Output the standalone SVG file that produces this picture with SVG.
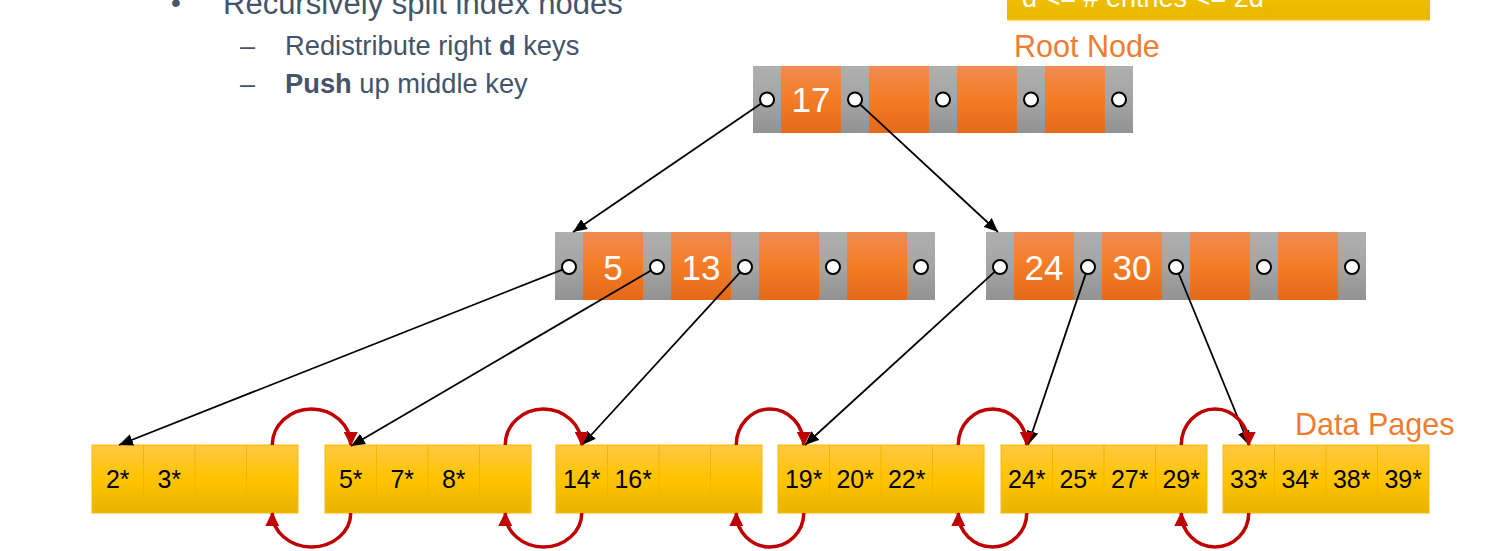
<svg xmlns="http://www.w3.org/2000/svg" width="1485" height="551" viewBox="0 0 1485 551">
<defs>
<linearGradient id="gOr" x1="0" y1="0" x2="0" y2="1">
<stop offset="0" stop-color="#F08B53"/><stop offset="0.5" stop-color="#F47C25"/><stop offset="1" stop-color="#E4691A"/>
</linearGradient>
<linearGradient id="gGr" x1="0" y1="0" x2="0" y2="1">
<stop offset="0" stop-color="#AFAFAF"/><stop offset="0.5" stop-color="#A5A5A5"/><stop offset="1" stop-color="#929292"/>
</linearGradient>
<linearGradient id="gYe" x1="0" y1="0" x2="0" y2="1">
<stop offset="0" stop-color="#FFC944"/><stop offset="0.5" stop-color="#FFC400"/><stop offset="1" stop-color="#E8B300"/>
</linearGradient>
<linearGradient id="gBox" x1="0" y1="0" x2="0" y2="1">
<stop offset="0" stop-color="#F7C800"/><stop offset="1" stop-color="#E8B700"/>
</linearGradient>
<marker id="ab" markerUnits="userSpaceOnUse" markerWidth="14" markerHeight="12" viewBox="0 0 14 12" refX="14" refY="6" orient="auto">
<path d="M0,0 L14,6 L0,12 Z" fill="#000"/>
</marker>
<marker id="ar" markerUnits="userSpaceOnUse" markerWidth="14" markerHeight="14" viewBox="0 0 14 14" refX="13" refY="7" orient="auto">
<path d="M0,0 L14,7 L0,14 Z" fill="#C00000"/>
</marker>
<style>
.t{font-family:"Liberation Sans",Arial,sans-serif;}
.tx{fill:#44546A;}
.gr{fill:url(#gGr);}
.or{fill:url(#gOr);}
.pt{fill:#fff;stroke:#000;stroke-width:2;}
.key{font-family:"Liberation Sans",Arial,sans-serif;font-size:35px;fill:#fff;text-anchor:middle;}
.leaf{fill:url(#gYe);stroke:#F7BC00;stroke-width:1;}
.div{stroke:#F2B500;stroke-width:1;}
.lk{font-family:"Liberation Sans",Arial,sans-serif;font-size:25px;fill:#000;text-anchor:middle;}
.bl{stroke:#000;stroke-width:1.8;fill:none;marker-end:url(#ab);}
.rd{stroke:#C00000;stroke-width:3.5;fill:none;marker-end:url(#ar);}
.lab{font-family:"Liberation Sans",Arial,sans-serif;font-size:30.5px;fill:#ED7D31;}
</style>
</defs>
<rect width="1485" height="551" fill="#fff"/>

<g id="bullets" class="t tx">
<text x="171" y="12" font-size="28">•</text>
<text x="223" y="14" font-size="31">Recursively split index nodes</text>
<text x="240" y="55" font-size="27">–</text>
<text x="285" y="55" font-size="27.3">Redistribute right <tspan font-weight="bold">d</tspan> keys</text>
<text x="240" y="93" font-size="27">–</text>
<text x="285" y="93" font-size="27.3"><tspan font-weight="bold">Push</tspan> up middle key</text>
</g>

<g id="constraint-box">
<rect x="1007" y="-30" width="423" height="50.5" fill="url(#gBox)"/>
<line x1="1007" y1="20" x2="1430" y2="20" stroke="#FFD24A" stroke-width="1"/>
<text class="t" x="1022" y="7" font-size="27" fill="#fff">d &lt;= # entries &lt;= 2d</text>
</g>

<g id="label-root"><text class="lab" x="1014" y="57">Root Node</text></g>
<g id="label-data"><text class="lab" x="1295" y="435">Data Pages</text></g>

<g id="root-node">
<rect class="gr" x="753" y="66" width="28" height="67"/>
<rect class="or" x="781" y="66" width="60" height="67"/>
<rect class="gr" x="841" y="66" width="28" height="67"/>
<rect class="or" x="869" y="66" width="60" height="67"/>
<rect class="gr" x="929" y="66" width="28" height="67"/>
<rect class="or" x="957" y="66" width="60" height="67"/>
<rect class="gr" x="1017" y="66" width="28" height="67"/>
<rect class="or" x="1045" y="66" width="60" height="67"/>
<rect class="gr" x="1105" y="66" width="28" height="67"/>
<text class="key" x="811" y="112">17</text>
<circle class="pt" cx="767" cy="99.5" r="7"/>
<circle class="pt" cx="855" cy="99.5" r="7"/>
<circle class="pt" cx="943" cy="99.5" r="7"/>
<circle class="pt" cx="1031" cy="99.5" r="7"/>
<circle class="pt" cx="1119" cy="99.5" r="7"/>
</g>

<g id="index-left">
<rect class="gr" x="555" y="232" width="28" height="68"/>
<rect class="or" x="583" y="232" width="60" height="68"/>
<rect class="gr" x="643" y="232" width="28" height="68"/>
<rect class="or" x="671" y="232" width="60" height="68"/>
<rect class="gr" x="731" y="232" width="28" height="68"/>
<rect class="or" x="759" y="232" width="60" height="68"/>
<rect class="gr" x="819" y="232" width="28" height="68"/>
<rect class="or" x="847" y="232" width="60" height="68"/>
<rect class="gr" x="907" y="232" width="28" height="68"/>
<text class="key" x="613" y="280">5</text>
<text class="key" x="701" y="280">13</text>
<circle class="pt" cx="569" cy="267" r="7"/>
<circle class="pt" cx="657" cy="267" r="7"/>
<circle class="pt" cx="745" cy="267" r="7"/>
<circle class="pt" cx="833" cy="267" r="7"/>
<circle class="pt" cx="921" cy="267" r="7"/>
</g>

<g id="index-right">
<rect class="gr" x="986" y="232" width="28" height="68"/>
<rect class="or" x="1014" y="232" width="60" height="68"/>
<rect class="gr" x="1074" y="232" width="28" height="68"/>
<rect class="or" x="1102" y="232" width="60" height="68"/>
<rect class="gr" x="1162" y="232" width="28" height="68"/>
<rect class="or" x="1190" y="232" width="60" height="68"/>
<rect class="gr" x="1250" y="232" width="28" height="68"/>
<rect class="or" x="1278" y="232" width="60" height="68"/>
<rect class="gr" x="1338" y="232" width="28" height="68"/>
<text class="key" x="1044" y="280">24</text>
<text class="key" x="1132" y="280">30</text>
<circle class="pt" cx="1000" cy="267" r="7"/>
<circle class="pt" cx="1088" cy="267" r="7"/>
<circle class="pt" cx="1176" cy="267" r="7"/>
<circle class="pt" cx="1264" cy="267" r="7"/>
<circle class="pt" cx="1352" cy="267" r="7"/>
</g>

<g id="leaf-1">
<rect class="leaf" x="92" y="445" width="206" height="68"/>
<path class="div" d="M143.5,445V513M195,445V513M246.5,445V513"/>
<text class="lk" x="117.75" y="488">2*</text>
<text class="lk" x="169.25" y="488">3*</text>
</g>
<g id="leaf-2">
<rect class="leaf" x="325" y="445" width="206" height="68"/>
<path class="div" d="M376.5,445V513M428,445V513M479.5,445V513"/>
<text class="lk" x="350.75" y="488">5*</text>
<text class="lk" x="402.25" y="488">7*</text>
<text class="lk" x="453.75" y="488">8*</text>
</g>
<g id="leaf-3">
<rect class="leaf" x="556" y="445" width="206" height="68"/>
<path class="div" d="M607.5,445V513M659,445V513M710.5,445V513"/>
<text class="lk" x="581.75" y="488">14*</text>
<text class="lk" x="633.25" y="488">16*</text>
</g>
<g id="leaf-4">
<rect class="leaf" x="778" y="445" width="206" height="68"/>
<path class="div" d="M829.5,445V513M881,445V513M932.5,445V513"/>
<text class="lk" x="803.75" y="488">19*</text>
<text class="lk" x="855.25" y="488">20*</text>
<text class="lk" x="906.75" y="488">22*</text>
</g>
<g id="leaf-5">
<rect class="leaf" x="1001" y="445" width="206" height="68"/>
<path class="div" d="M1052.5,445V513M1104,445V513M1155.5,445V513"/>
<text class="lk" x="1026.75" y="488">24*</text>
<text class="lk" x="1078.25" y="488">25*</text>
<text class="lk" x="1129.75" y="488">27*</text>
<text class="lk" x="1181.25" y="488">29*</text>
</g>
<g id="leaf-6">
<rect class="leaf" x="1223" y="445" width="206" height="68"/>
<path class="div" d="M1274.5,445V513M1326,445V513M1377.5,445V513"/>
<text class="lk" x="1248.75" y="488">33*</text>
<text class="lk" x="1300.25" y="488">34*</text>
<text class="lk" x="1351.75" y="488">38*</text>
<text class="lk" x="1403.25" y="488">39*</text>
</g>

<g id="connectors">
<line class="bl" x1="761.2" y1="103.5" x2="573" y2="232"/>
<line class="bl" x1="860.1" y1="104.3" x2="998" y2="232"/>
<line class="bl" x1="562.5" y1="269.6" x2="119" y2="445"/>
<line class="bl" x1="651" y1="270.5" x2="351" y2="446"/>
<line class="bl" x1="740.3" y1="272.2" x2="582" y2="445"/>
<line class="bl" x1="994.8" y1="271.7" x2="805" y2="445"/>
<line class="bl" x1="1085.8" y1="273.6" x2="1028" y2="445"/>
<line class="bl" x1="1178.7" y1="273.5" x2="1249" y2="445"/>

<path class="rd" d="M272.25,445 A39.25,36 0 0 1 350.75,445"/>
<path class="rd" d="M350.75,513 A39.25,34 0 0 1 272.25,513"/>
<path class="rd" d="M505.25,445 A38.25,36 0 0 1 581.75,445"/>
<path class="rd" d="M581.75,513 A38.25,34 0 0 1 505.25,513"/>
<path class="rd" d="M736.25,445 A33.75,36 0 0 1 803.75,445"/>
<path class="rd" d="M803.75,513 A33.75,34 0 0 1 736.25,513"/>
<path class="rd" d="M958.25,445 A34.25,36 0 0 1 1026.75,445"/>
<path class="rd" d="M1026.75,513 A34.25,34 0 0 1 958.25,513"/>
<path class="rd" d="M1181.25,445 A33.75,36 0 0 1 1248.75,445"/>
<path class="rd" d="M1248.75,513 A33.75,34 0 0 1 1181.25,513"/>
</g>
</svg>
